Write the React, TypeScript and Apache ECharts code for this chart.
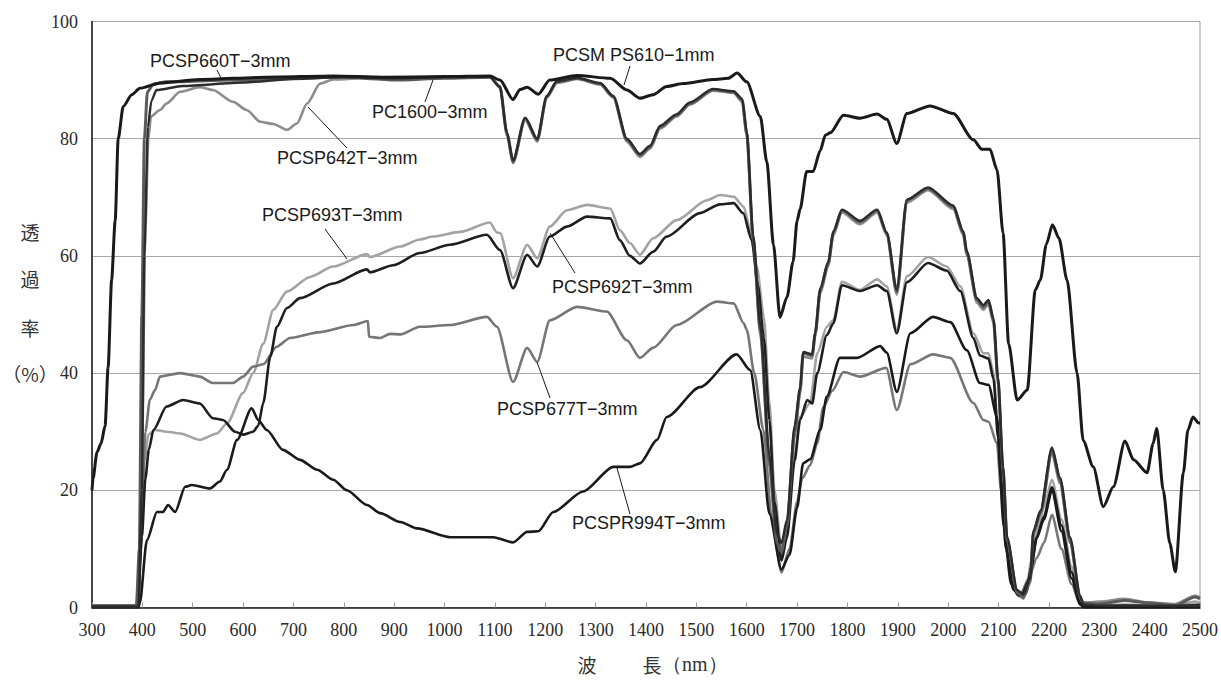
import React, { useEffect, useRef } from "react";
import * as echarts from "echarts";

type P = [number, number];

const X_MIN = 300;
const X_MAX = 2500;
const X_STEP = 100;
const Y_MIN = 0;
const Y_MAX = 100;
const Y_STEP = 20;

const PS610: P[] = [[300,20],[302,22],[310,26.5],[318,28],[326,31],[332,41],[339,56],[346,66],[352,80],[362,85.5],[379,87.5],[395,88.6],[435,89.5],[514,90.1],[647,90.5],[779,90.7],[878,90.5],[1000,90.6],[1090,90.7],[1110,90],[1136,86.7],[1150,88.4],[1164,88.8],[1186,87.6],[1209,90],[1263,90.8],[1329,90.3],[1362,88.3],[1388,86.9],[1414,87.5],[1441,88.9],[1474,89.4],[1533,90.1],[1563,90.3],[1581,91.2],[1600,89.7],[1627,83.8],[1640,76],[1653,62],[1666,49.5],[1680,53],[1692,59],[1700,66],[1706,68],[1719,74.4],[1732,74.4],[1746,78],[1756,80.6],[1766,81],[1792,84],[1825,83.5],[1859,84.2],[1878,83.3],[1898,79.2],[1918,84.3],[1964,85.6],[2010,84.3],[2050,79.8],[2067,78.2],[2083,78.2],[2097,74.7],[2109,63.9],[2120,45],[2137,35.4],[2157,37.1],[2173,54.2],[2183,55.9],[2195,62],[2207,65.3],[2220,63],[2236,55.9],[2256,40],[2268,28.5],[2288,24],[2308,17.2],[2328,20.6],[2351,28.4],[2368,25.2],[2395,23],[2407,28],[2414,30.6],[2427,20],[2440,11],[2451,6.1],[2467,23],[2476,30.3],[2486,32.5],[2497,31.5],[2500,31.5]];

const SP660T: P[] = [[300,0.2],[392,0.2],[399,20],[404,60],[411,82],[418,86.5],[428,88.3],[480,89],[600,89.6],[700,90.2],[800,90.5],[900,90.3],[1000,90.5],[1090,90.6],[1110,88.8],[1124,81],[1136,76.3],[1160,83.6],[1184,80],[1203,87.3],[1223,89.8],[1263,90.4],[1309,89.5],[1335,87.3],[1362,80],[1388,77.4],[1408,78.8],[1428,82.2],[1461,84.2],[1487,86.2],[1533,88.5],[1574,88.1],[1591,86.8],[1600,81.3],[1613,63.5],[1627,48],[1645,26],[1660,12.5],[1669,11],[1680,15],[1695,31],[1706,37.5],[1712,43.6],[1730,43.2],[1736,47],[1746,54.5],[1762,59],[1772,64.2],[1789,67.9],[1825,66],[1859,67.9],[1878,64],[1898,54.2],[1918,69.6],[1960,71.7],[2010,68.6],[2030,64.2],[2037,60.8],[2057,52.8],[2070,51.6],[2080,52.5],[2090,49.3],[2099,39.2],[2109,24],[2117,12],[2137,3],[2149,2.2],[2163,5],[2169,13],[2183,16.5],[2206,27.3],[2222,22.2],[2242,12],[2262,2],[2268,0.5],[2300,0.3],[2400,0.3],[2500,0.3]];

const PC1600: P[] = [[300,0.3],[388,0.3],[394,10],[399,50],[404,80],[410,88],[422,89.3],[448,89.7],[580,90],[713,90.4],[800,90.5],[866,90.2],[900,90],[1000,90.3],[1090,90.5],[1110,88.9],[1124,80.9],[1136,76.1],[1160,83.5],[1184,79.8],[1203,87.2],[1223,89.7],[1263,90.3],[1309,89.4],[1335,87.2],[1362,79.8],[1388,77.2],[1408,78.6],[1428,82],[1461,84],[1487,86],[1533,88.4],[1574,88],[1591,86.6],[1600,80.9],[1613,62.7],[1627,47.4],[1645,25],[1660,11],[1669,9.5],[1680,14],[1695,30],[1706,37.1],[1712,43.4],[1730,43],[1736,46.8],[1746,54.2],[1762,58.8],[1772,64],[1789,67.8],[1825,65.8],[1859,67.8],[1878,63.9],[1898,53.9],[1918,69.5],[1960,71.5],[2010,68.4],[2030,64],[2037,60.5],[2057,52.5],[2070,51.3],[2080,52.3],[2090,49],[2099,38.8],[2109,23.5],[2117,11.5],[2137,2.5],[2149,1.8],[2163,4.7],[2169,12.7],[2183,16.1],[2206,26.9],[2222,21.8],[2242,11.5],[2262,1.8],[2268,0.8],[2300,0.6],[2350,1.2],[2400,0.8],[2450,0.3],[2490,1.8],[2500,1.5]];

const SP642T: P[] = [[300,0.3],[392,0.3],[399,25],[406,65],[412,80],[417,83.8],[435,84.9],[448,86],[475,88],[514,88.8],[540,88.3],[580,86.3],[607,84.9],[634,82.9],[660,82.5],[687,81.5],[707,82.6],[727,86],[753,89.4],[779,90.1],[850,90.4],[950,90.3],[1050,90.5],[1090,90.5],[1110,88.7],[1124,80.5],[1136,75.8],[1160,83.2],[1184,79.5],[1203,87],[1223,89.5],[1263,90.2],[1309,89.2],[1335,87],[1362,79.5],[1388,76.9],[1408,78.3],[1428,81.7],[1461,83.8],[1487,85.8],[1533,88.2],[1574,87.8],[1591,86.3],[1600,80.5],[1613,62],[1627,46.5],[1645,24],[1660,10],[1669,8.5],[1680,13],[1695,29],[1706,36.5],[1712,42.8],[1730,42.5],[1736,46.3],[1746,53.6],[1762,58.3],[1772,63.5],[1789,67.4],[1825,65.4],[1859,67.4],[1878,63.5],[1898,53.4],[1918,69.1],[1960,71.2],[2010,68],[2030,63.5],[2037,60],[2057,52],[2070,50.8],[2080,51.8],[2090,48.5],[2099,38],[2109,22.5],[2117,10.5],[2137,2.2],[2149,1.5],[2163,4.2],[2169,12],[2183,15.5],[2206,26.3],[2222,21.2],[2242,11],[2262,1.5],[2268,0.8],[2300,1],[2350,1.5],[2400,0.8],[2450,0.6],[2490,2],[2500,1.8]];

const SP693T: P[] = [[300,0.3],[390,0.3],[397,10],[404,25],[412,29.5],[425,30.3],[448,30],[475,29.7],[514,28.6],[548,29.7],[568,31.4],[600,36.6],[620,40],[640,45],[660,50.8],[687,53.9],[733,56.4],[779,58.2],[846,60.3],[852,59.8],[912,61.6],[951,62.8],[977,63.3],[1031,64.1],[1090,65.7],[1104,64],[1110,63.9],[1136,56.2],[1164,61.9],[1184,59.6],[1209,65],[1243,67.8],[1283,68.7],[1329,68.1],[1348,64.4],[1368,62.2],[1388,60.2],[1414,63],[1461,66.1],[1521,69.5],[1547,70.4],[1574,70.1],[1594,68.4],[1607,64.4],[1620,58.2],[1634,49.6],[1645,35],[1655,20],[1669,10],[1680,14],[1695,26],[1706,32.5],[1726,34.9],[1740,43.4],[1759,47.9],[1772,49],[1789,55.6],[1825,54.2],[1859,56],[1878,54.8],[1898,47.4],[1918,56.5],[1960,59.8],[1997,58.2],[2024,54.8],[2050,46.8],[2070,43.4],[2080,43.4],[2090,40],[2099,30],[2110,15],[2125,5],[2140,2.5],[2155,3],[2165,8],[2176,13],[2190,17],[2206,21.8],[2225,15],[2245,7],[2262,1],[2270,0.3],[2350,0.5],[2450,0.2],[2490,1],[2500,0.8]];

const SP692T: P[] = [[300,0.2],[391,0.2],[399,12],[406,22],[413,27],[422,30.3],[448,34.3],[481,35.4],[514,34.8],[540,32.3],[560,32],[584,30],[600,29.5],[620,30],[630,31],[640,34.9],[654,42.8],[667,47.9],[687,51.1],[713,52.8],[779,55.3],[846,57.7],[852,57.2],[898,58.4],[951,60.5],[1011,61.9],[1084,63.6],[1110,61],[1136,54.5],[1164,60.2],[1184,58.2],[1209,63.3],[1243,65],[1283,66.7],[1329,66.4],[1348,62.7],[1368,60],[1388,58.7],[1414,60.7],[1441,63.3],[1507,67.3],[1547,68.8],[1574,69],[1593,67.3],[1610,62.7],[1622,55],[1634,46],[1645,32],[1655,18],[1669,8],[1680,12],[1695,25],[1706,32],[1720,35.4],[1730,34.8],[1740,40],[1759,46.5],[1772,48.5],[1789,55],[1825,54],[1859,55],[1878,54],[1898,46.8],[1918,55.5],[1960,58.8],[1997,57.5],[2024,54],[2050,46],[2063,43],[2080,42.5],[2090,39],[2099,29],[2110,14],[2125,4],[2140,2],[2155,2.5],[2165,7],[2176,12],[2190,15.5],[2206,20.5],[2225,14],[2245,6],[2262,0.8],[2270,0.2],[2350,0.3],[2450,0.2],[2500,0.4]];

const SP677T: P[] = [[300,0.3],[391,0.3],[399,15],[406,30],[415,35.5],[425,37.1],[435,39.4],[475,40],[514,39.4],[540,38.3],[580,38.3],[600,39.4],[620,41.1],[640,41.5],[667,44.5],[693,46],[753,47],[819,48.2],[848,48.9],[850,46.2],[872,46],[892,46.7],[912,46.6],[951,47.9],[1011,48.2],[1084,49.6],[1104,47.9],[1136,38.5],[1164,44.3],[1184,41.9],[1209,49],[1263,51.3],[1322,50.5],[1362,45.6],[1388,42.6],[1414,44.3],[1461,48.2],[1541,52.2],[1574,51.9],[1594,48.5],[1600,47.4],[1615,40],[1633,30.3],[1650,15],[1669,6],[1685,10],[1700,18],[1710,22],[1726,24.3],[1740,28],[1752,34.2],[1770,37],[1792,40.2],[1825,39.4],[1877,40.9],[1898,33.7],[1925,41.5],[1970,43.2],[2004,42.6],[2050,34.9],[2070,32],[2080,31.7],[2097,28],[2105,20],[2115,10],[2130,3],[2145,2.5],[2160,5],[2176,8.5],[2190,11],[2206,15.8],[2225,10],[2245,4],[2262,0.5],[2300,0.3],[2400,0.3],[2500,0.5]];

const SPR994T: P[] = [[300,0],[392,0],[395,0.8],[409,11.5],[429,16.3],[441,16.3],[451,17.5],[465,16.3],[485,20.6],[498,20.9],[534,20.3],[554,21.5],[568,23.5],[588,28.6],[617,34],[630,32],[647,30.3],[679,26.9],[713,25.2],[747,23.5],[779,21.8],[806,20],[846,17.5],[872,16.1],[912,14.6],[945,13.5],[1011,12],[1097,12],[1136,11.1],[1164,12.9],[1186,13],[1216,16.3],[1275,19.8],[1335,24],[1368,24],[1388,24.6],[1422,28.6],[1441,32.5],[1507,37.6],[1580,43.2],[1607,40.5],[1627,30.3],[1645,16],[1669,6.5],[1685,9],[1700,17],[1712,24.6],[1726,25.3],[1746,30.3],[1759,36],[1785,42.6],[1819,42.6],[1865,44.6],[1878,43.5],[1898,36.8],[1925,46.8],[1970,49.6],[2004,48.7],[2037,43.9],[2063,38.3],[2080,38],[2097,32.5],[2105,22],[2115,10],[2130,3],[2145,2],[2160,4.5],[2176,11.9],[2190,15],[2206,20],[2225,13],[2245,5],[2262,0.5],[2270,0],[2400,0],[2500,0]];

const SERIES = [
  { name: "PCSP642T-3mm", data: SP642T, color: "#8c8c8c", width: 2.6 },
  { name: "PCSP693T-3mm", data: SP693T, color: "#a3a3a3", width: 2.6 },
  { name: "PCSP677T-3mm", data: SP677T, color: "#767676", width: 2.6 },
  { name: "PCSP692T-3mm", data: SP692T, color: "#1e1e1e", width: 2.6 },
  { name: "PCSPR994T-3mm", data: SPR994T, color: "#1a1a1a", width: 2.6 },
  { name: "PC1600-3mm", data: PC1600, color: "#5a5a5a", width: 3 },
  { name: "PCSP660T-3mm", data: SP660T, color: "#2c2c2c", width: 2.4 },
  { name: "PCSM PS610-1mm", data: PS610, color: "#1a1a1a", width: 3 },
];

// annotation labels: text, text left/top, leader line from -> to
const LABELS = [
  { text: "PCSP660T−3mm", x: 150, y: 52, l: [217, 70, 221, 78] },
  { text: "PCSM PS610−1mm", x: 553, y: 46, l: [630, 66, 624, 85] },
  { text: "PC1600−3mm", x: 372, y: 103, l: [425, 102, 433, 80] },
  { text: "PCSP642T−3mm", x: 277, y: 149, l: [347, 148, 308, 107] },
  { text: "PCSP693T−3mm", x: 262, y: 206, l: [325, 229, 347, 259] },
  { text: "PCSP692T−3mm", x: 552, y: 278, l: [575, 273, 550, 233] },
  { text: "PCSP677T−3mm", x: 497, y: 400, l: [550, 398, 537, 362] },
  { text: "PCSPR994T−3mm", x: 572, y: 514, l: [630, 514, 617, 468] },
];

export default function App() {
  const ref = useRef<HTMLDivElement>(null);
  useEffect(() => {
    if (!ref.current) return;
    const chart = echarts.init(ref.current, undefined, { renderer: "svg" });
    const labelFont = "'Liberation Sans', Arial, sans-serif";
    const serif = "'Liberation Serif', 'Times New Roman', serif";
    const cjk = "'Noto Sans CJK JP', sans-serif";
    const graphics: any[] = [];
    LABELS.forEach((lb) => {
      graphics.push({
        type: "text",
        left: lb.x,
        top: lb.y,
        style: { text: lb.text, fill: "#1a1a1a", font: `18px ${labelFont}` },
        z: 100,
      });
      graphics.push({
        type: "line",
        shape: { x1: lb.l[0], y1: lb.l[1], x2: lb.l[2], y2: lb.l[3] },
        style: { stroke: "#1a1a1a", lineWidth: 1 },
        z: 100,
      });
    });
    const yName = ["透", "過", "率"];
    const yPos = [231, 278, 327];
    yName.forEach((c, i) => {
      graphics.push({
        type: "text",
        x: 30,
        y: yPos[i],
        style: { text: c, fill: "#333", font: `19px ${cjk}`, align: "center", verticalAlign: "middle" },
      });
    });
    graphics.push({
      type: "text",
      x: 30,
      y: 373,
      style: { text: "（%）", fill: "#333", font: `19px ${cjk}`, align: "center", verticalAlign: "middle" },
    });
    graphics.push({
      type: "text",
      x: 587,
      y: 664,
      style: { text: "波", fill: "#333", font: `19px ${cjk}`, align: "center", verticalAlign: "middle" },
    });
    graphics.push({
      type: "text",
      x: 652,
      y: 664,
      style: { text: "長", fill: "#333", font: `19px ${cjk}`, align: "center", verticalAlign: "middle" },
    });
    graphics.push({
      type: "text",
      x: 662,
      y: 664,
      style: { text: "（nm）", fill: "#333", font: `20px ${serif}`, align: "left", verticalAlign: "middle" },
    });

    chart.setOption({
      animation: false,
      backgroundColor: "#ffffff",
      grid: {
        left: 92,
        right: 21,
        top: 21.5,
        bottom: 72.5,
        show: true,
        borderColor: "#9a9a9a",
        borderWidth: 1,
      },
      xAxis: {
        type: "value",
        min: X_MIN,
        max: X_MAX,
        interval: X_STEP,
        axisLine: { show: true, lineStyle: { color: "#1a1a1a", width: 1.5 } },
        axisTick: { show: true, inside: true, length: 5, lineStyle: { color: "#999" } },
        axisLabel: {
          color: "#2a2a2a",
          fontFamily: serif,
          fontSize: 18,
          margin: 13,
          formatter: (v: number) => String(v),
        },
        splitLine: { show: false },
      },
      yAxis: {
        type: "value",
        min: Y_MIN,
        max: Y_MAX,
        interval: Y_STEP,
        axisLine: { show: true, lineStyle: { color: "#1a1a1a", width: 1.5 } },
        axisTick: { show: false },
        axisLabel: {
          color: "#2a2a2a",
          fontFamily: serif,
          fontSize: 18,
          margin: 14,
          formatter: (v: number) => String(v),
        },
        splitLine: { show: true, lineStyle: { color: "#a8a8a8", width: 1 } },
      },
      series: SERIES.map((s) => ({
        type: "line",
        name: s.name,
        data: s.data,
        showSymbol: false,
        symbol: "none",
        smooth: 0.25,
        smoothMonotone: "x",
        lineStyle: { color: s.color, width: s.width },
        itemStyle: { color: s.color },
        z: 3,
      })),
      graphic: graphics,
    });
    return () => chart.dispose();
  }, []);
  return <div ref={ref} style={{ width: 1221, height: 680, position: "absolute", left: 0, top: 0 }} />;
}
